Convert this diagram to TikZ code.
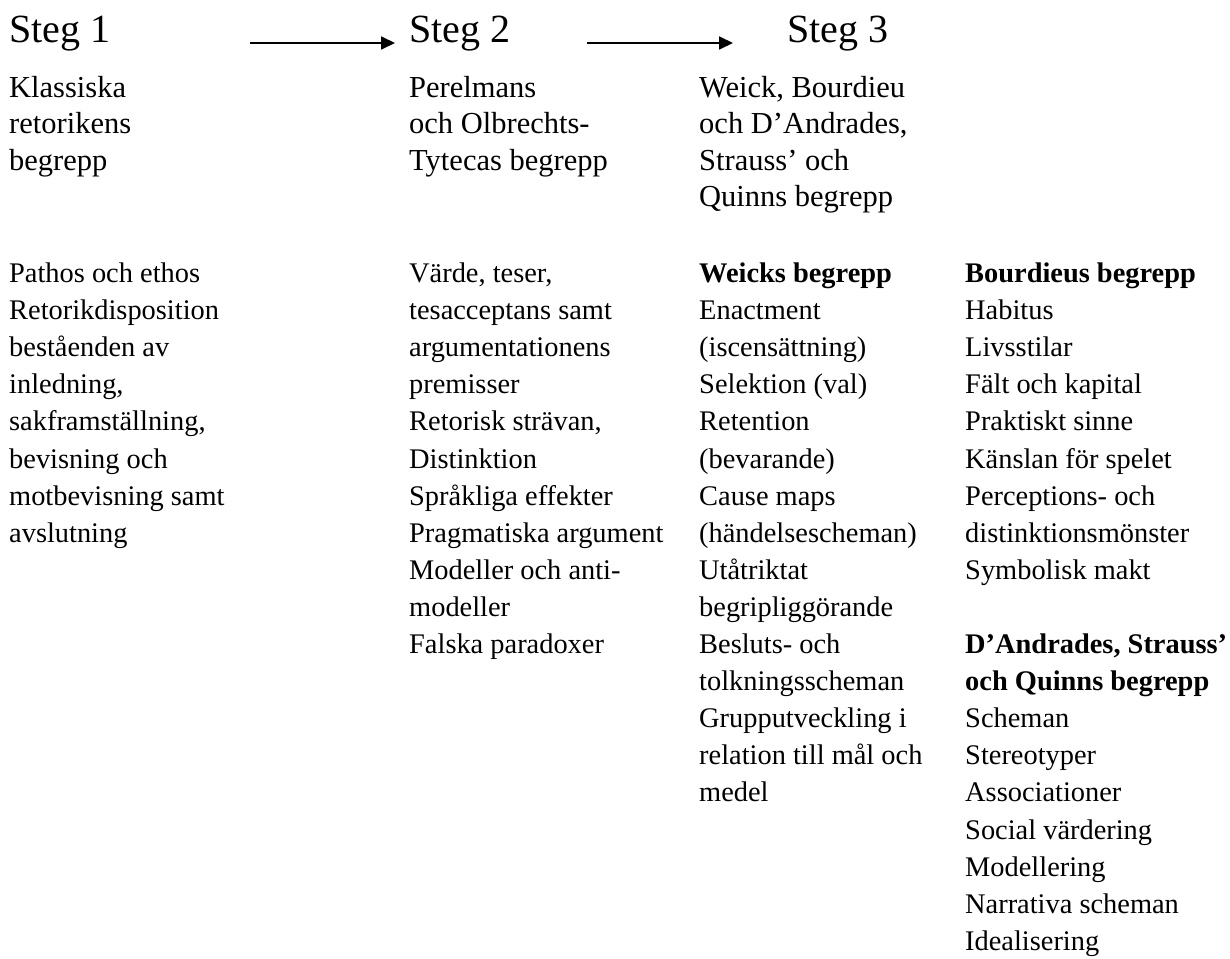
\documentclass[tikz,border=0pt]{standalone}
\usepackage{fontspec}
\setmainfont{Liberation Serif}
\usetikzlibrary{arrows.meta}
\tikzset{
  stegtxt/.style={anchor=base west, inner sep=0pt, font=\fontsize{40}{46}\selectfont},
  headtxt/.style={anchor=base west, inner sep=0pt, font=\fontsize{30.5}{36.5}\selectfont},
  bodytxt/.style={anchor=base west, inner sep=0pt, font=\fontsize{28.4}{37.1}\selectfont},
  flowarrow/.style={line width=1.8pt, -{Triangle[length=14pt,width=13pt]}}
}
\begin{document}
\begin{tikzpicture}[x=1pt,y=-1pt]
\useasboundingbox (0,0) rectangle (1230,958);
% step titles
\node[stegtxt] (s1) at (9,42) {Steg 1};
\node[stegtxt] (s2) at (409,42) {Steg 2};
\node[stegtxt] (s3) at (787,42) {Steg 3};
% arrows
\coordinate (a1s) at (250,43);
\coordinate (a1e) at (395,43);
\coordinate (a2s) at (587,43);
\coordinate (a2e) at (733,43);
\draw[flowarrow] (a1s) -- (a1e);
\draw[flowarrow] (a2s) -- (a2e);
% headings
\foreach \t [count=\i from 0] in {Klassiska, retorikens, begrepp}
  \node[headtxt, name=h1-\i] at (9,{97+36.5*\i}) {\t};
\foreach \t [count=\i from 0] in {Perelmans, och Olbrechts-, Tytecas begrepp}
  \node[headtxt, name=h2-\i] at (409,{97+36.5*\i}) {\t};
\foreach \t [count=\i from 0] in {{Weick, Bourdieu}, {och D’Andrades,}, Strauss’ och, Quinns begrepp}
  \node[headtxt, name=h3-\i] at (699,{97+36.5*\i}) {\t};
% column 1
\foreach \t [count=\i from 0] in {Pathos och ethos, Retorikdisposition, beståenden av, {inledning,}, {sakframställning,}, bevisning och, motbevisning samt, avslutning}
  \node[bodytxt, name=c1-\i] at (9,{282.5+37.1*\i}) {\t};
% column 2
\foreach \t [count=\i from 0] in {{Värde, teser,}, tesacceptans samt, argumentationens, premisser, {Retorisk strävan,}, Distinktion, Språkliga effekter, Pragmatiska argument, Modeller och anti-, modeller, Falska paradoxer}
  \node[bodytxt, name=c2-\i] at (409,{282.5+37.1*\i}) {\t};
% column 3
\foreach \t [count=\i from 0] in {\textbf{Weicks begrepp}, Enactment, (iscensättning), Selektion (val), Retention, (bevarande), Cause maps, (händelsescheman), Utåtriktat, begripliggörande, Besluts- och, tolkningsscheman, Grupputveckling i, relation till mål och, medel}
  \node[bodytxt, name=c3-\i] at (699,{282.5+37.1*\i}) {\t};
% column 4
\foreach \t [count=\i from 0] in {\textbf{Bourdieus begrepp}, Habitus, Livsstilar, Fält och kapital, Praktiskt sinne, Känslan för spelet, Perceptions- och, distinktionsmönster, Symbolisk makt}
  \node[bodytxt, name=c4-\i] at (965,{282.5+37.1*\i}) {\t};
\foreach \t [count=\i from 10] in {\textbf{D’Andrades, Strauss’}, \textbf{och Quinns begrepp}, Scheman, Stereotyper, Associationer, Social värdering, Modellering, Narrativa scheman, Idealisering}
  \node[bodytxt, name=c4-\i] at (965,{282.5+37.1*\i}) {\t};
\end{tikzpicture}
\end{document}
